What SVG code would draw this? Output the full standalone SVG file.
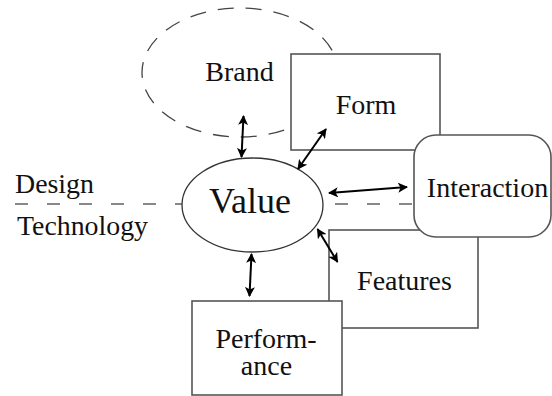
<svg xmlns="http://www.w3.org/2000/svg" width="552" height="396" viewBox="0 0 552 396">
  <defs>
    <marker id="head" viewBox="0 0 10 10" refX="9" refY="5" markerWidth="5" markerHeight="5" orient="auto-start-reverse" markerUnits="strokeWidth">
      <path d="M0,0 L10,5 L0,10 L2.5,5 Z" fill="#000"/>
    </marker>
    <style>
      text { font-family: 'Liberation Serif', 'Times New Roman', Times, serif; }
      .lbl { font-size: 28px; fill: #111; }
      .box { fill: #fff; stroke: #555; stroke-width: 1.6; }
      .arrow { stroke: #000; stroke-width: 2; fill: none; marker-start: url(#head); marker-end: url(#head); }
    </style>
  </defs>

  <g font-family="Liberation Serif, Times New Roman, serif">
  <!-- design / technology divider -->
  <g id="divider">
    <line x1="15" y1="204" x2="414" y2="204" stroke="#888" stroke-width="1.8" stroke-dasharray="13 19"/>
    <text class="lbl" x="15" y="193" textLength="79" lengthAdjust="spacingAndGlyphs">Design</text>
    <text class="lbl" x="17" y="235" textLength="131" lengthAdjust="spacingAndGlyphs">Technology</text>
  </g>

  <g id="brand">
    <ellipse cx="240" cy="72.5" rx="98" ry="64.5" fill="none" stroke="#444" stroke-width="1.3" stroke-dasharray="16 12"/>
    <text class="lbl" x="239.5" y="81" text-anchor="middle">Brand</text>
  </g>

  <g id="form">
    <rect class="box" x="291" y="54" width="149" height="96"/>
    <text class="lbl" x="366" y="114" text-anchor="middle">Form</text>
  </g>

  <g id="features">
    <rect class="box" x="329" y="230" width="149" height="98"/>
    <text class="lbl" x="404.5" y="290" text-anchor="middle">Features</text>
  </g>

  <g id="performance">
    <rect class="box" x="192" y="301" width="150" height="94"/>
    <text class="lbl" x="266" y="348" text-anchor="middle">Perform-</text>
    <text class="lbl" x="266.5" y="375" text-anchor="middle">ance</text>
  </g>

  <g id="interaction">
    <rect class="box" x="414" y="135" width="137" height="102" rx="22" ry="22"/>
    <text class="lbl" x="487.5" y="197" text-anchor="middle">Interaction</text>
  </g>

  <g id="value">
    <ellipse cx="252.5" cy="205" rx="70.5" ry="47" fill="#fff" stroke="#333" stroke-width="1.3"/>
    <text class="lbl" x="250" y="213" text-anchor="middle" style="font-size:36px">Value</text>
  </g>

  <g id="connectors">
    <line class="arrow" x1="243.5" y1="116" x2="241.5" y2="157"/>
    <line class="arrow" x1="326" y1="129" x2="298" y2="169"/>
    <line class="arrow" x1="329" y1="193" x2="407" y2="187"/>
    <line class="arrow" x1="317.5" y1="229" x2="337.5" y2="262"/>
    <line class="arrow" x1="251.5" y1="254" x2="249.5" y2="296"/>
  </g>
  </g>
</svg>
